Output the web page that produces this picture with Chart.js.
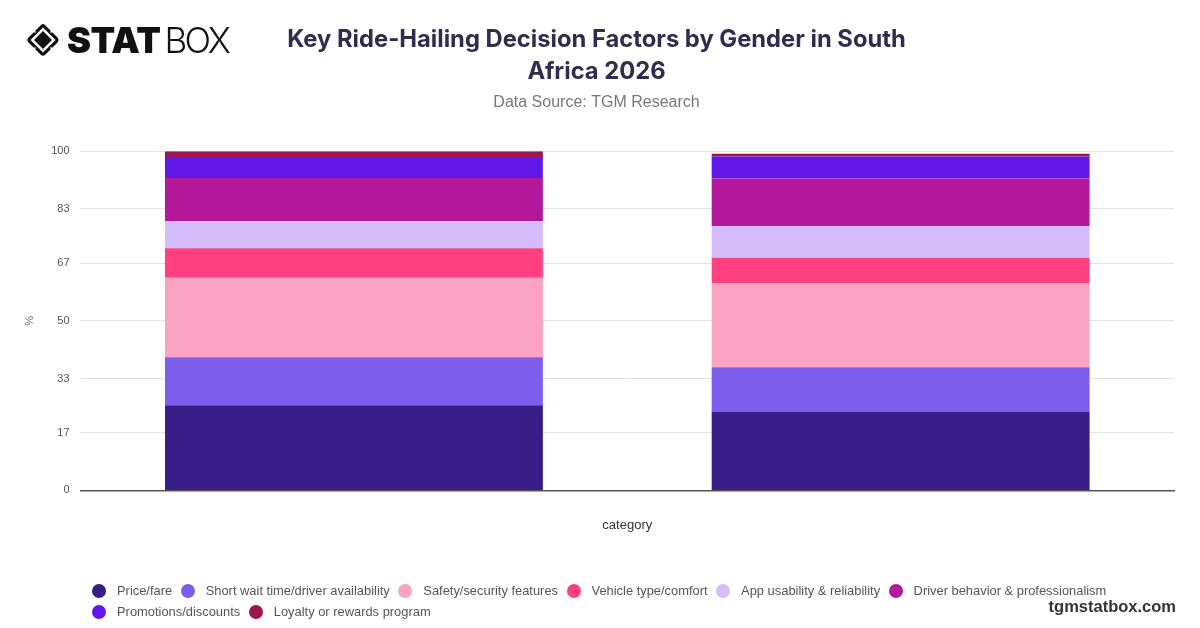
<!DOCTYPE html>
<html>
<head>
<meta charset="utf-8">
<script src="https://cdn.jsdelivr.net/npm/chart.js@4.4.1/dist/chart.umd.min.js"></script>
<style>
  html, body { margin:0; padding:0; background:#fff; }
  #wrap { position:relative; width:1200px; height:628px; overflow:hidden; background:#fff; }
  #c { position:absolute; left:0; top:0; }
  #logo { position:absolute; left:26px; top:22px; height:36px; display:flex; align-items:center; }
  #logo .stat { font-family: Inter, "DejaVu Sans", sans-serif; font-weight:900; font-size:36px; color:#111; letter-spacing:-0.5px; margin-left:7px; line-height:36px; }
  #logo .box { font-family: Inter, "DejaVu Sans", sans-serif; font-weight:300; font-size:35px; color:#111; letter-spacing:-2.5px; margin-left:4px; line-height:36px; }
  #legend { position:absolute; left:92px; top:580px; width:1090px; display:flex; flex-wrap:wrap; font-family:"Liberation Sans", Arial, sans-serif; font-size:12.9px; color:#555; }
  #legend .item { display:flex; align-items:center; height:21px; margin-right:8.5px; }
  #legend .dot { width:14px; height:14px; border-radius:50%; margin-right:11px; }
  #brand { position:absolute; right:24px; top:597px; font-family:"Liberation Sans", Arial, sans-serif; font-weight:700; font-size:16.5px; color:#333; }
</style>
</head>
<body>
<div id="wrap">
  <canvas id="c" width="1200" height="628"></canvas>
  <div id="logo">
    <svg width="34" height="34" viewBox="0 0 34 34">
      <path d="M17 1 Q18 1 19 2 L32 15 Q33 17 32 19 L19 32 Q17 33.5 15 32 L2 19 Q0.5 17 2 15 L15 2 Q16 1 17 1 Z" fill="#111"/>
      <polygon points="17,4.5 29.5,17 17,29.5 4.5,17" fill="#fff"/>
      <polygon points="17,8 26,17 17,26 8,17" fill="#111"/>
      <line x1="4" y1="4" x2="9.5" y2="9.5" stroke="#fff" stroke-width="1.6"/>
      <line x1="30" y1="4" x2="24.5" y2="9.5" stroke="#fff" stroke-width="1.6"/>
      <line x1="4" y1="30" x2="9.5" y2="24.5" stroke="#fff" stroke-width="1.6"/>
      <line x1="30" y1="30" x2="24.5" y2="24.5" stroke="#fff" stroke-width="1.6"/>
    </svg>
    <span class="stat">STAT</span><span class="box">BOX</span>
  </div>
  <div id="legend"></div>
  <div id="brand">tgmstatbox.com</div>
</div>
<script>
// ---- data ----
const categories = ['Male', 'Female'];
const seriesNames = [
  'Price/fare',
  'Short wait time/driver availability',
  'Safety/security features',
  'Vehicle type/comfort',
  'App usability & reliability',
  'Driver behavior & professionalism',
  'Promotions/discounts',
  'Loyalty or rewards program'
];
const priceFare        = [25.1, 23.3];
const shortWait        = [14.2, 13.0];
const safetySecurity   = [23.4, 24.8];
const vehicleComfort   = [8.7, 7.5];
const appUsability     = [8.0, 9.4];
const driverBehavior   = [12.7, 14.0];
const promotions       = [5.9, 6.5];
const loyaltyRewards   = [2.0, 0.8];
const yTicks = [0, 17, 33, 50, 67, 83, 100];

const seriesValues = [priceFare, shortWait, safetySecurity, vehicleComfort, appUsability, driverBehavior, promotions, loyaltyRewards];
const seriesColors = ['#381e86', '#7d5deb', '#fca3c3', '#fe3f80', '#d5bdfb', '#b3189b', '#6017e8', '#9d1650'];

const datasets = seriesNames.map((name, i) => ({
  label: name,
  data: seriesValues[i],
  backgroundColor: seriesColors[i],
  borderWidth: 0,
  categoryPercentage: 0.8,
  barPercentage: 0.864
}));

// HTML legend
const lg = document.getElementById('legend');
seriesNames.forEach((name, i) => {
  const it = document.createElement('div');
  it.className = 'item';
  const d = document.createElement('span');
  d.className = 'dot';
  d.style.background = seriesColors[i];
  const t = document.createElement('span');
  t.textContent = name;
  it.appendChild(d); it.appendChild(t);
  lg.appendChild(it);
});

new Chart(document.getElementById('c'), {
  type: 'bar',
  data: { labels: categories, datasets },
  options: {
    responsive: false,
    animation: false,
    devicePixelRatio: 1,
    layout: { padding: { left: 19, right: 26, top: 14, bottom: 91 } },
    plugins: {
      legend: { display: false },
      tooltip: { enabled: false },
      title: {
        display: true,
        text: ['Key Ride-Hailing Decision Factors by Gender in South', 'Africa 2026'],
        color: '#2f2d4d',
        font: { family: 'Inter', weight: '700', size: 23.75, lineHeight: 1.35 },
        padding: { top: 10, bottom: 0 }
      },
      subtitle: {
        display: true,
        text: 'Data Source: TGM Research',
        color: '#777',
        font: { family: '"Liberation Sans", Arial', size: 16, lineHeight: 1.2 },
        padding: { top: 5, bottom: 39 }
      }
    },
    scales: {
      x: {
        stacked: true,
        grid: { display: false },
        border: { display: true, color: '#555', width: 1.5 },
        ticks: { display: false },
        title: {
          display: true, text: 'category', color: '#333',
          font: { family: '"Liberation Sans", Arial', size: 13 },
          padding: { top: 19, bottom: 4 }
        }
      },
      y: {
        stacked: true,
        min: 0, max: 100,
        afterBuildTicks: (scale) => { scale.ticks = yTicks.map(v => ({ value: v })); },
        grid: { color: '#e2e2e2', drawTicks: false },
        border: { display: false },
        ticks: {
          color: '#555', padding: 11,
          font: { family: '"Liberation Sans", Arial', size: 11 },
          callback: (v) => String(Math.round(v))
        },
        title: {
          display: true, text: '%', color: '#666',
          font: { family: '"Liberation Sans", Arial', size: 11 },
          padding: { top: 4, bottom: 4 }
        }
      }
    }
  }
});
</script>
</body>
</html>
